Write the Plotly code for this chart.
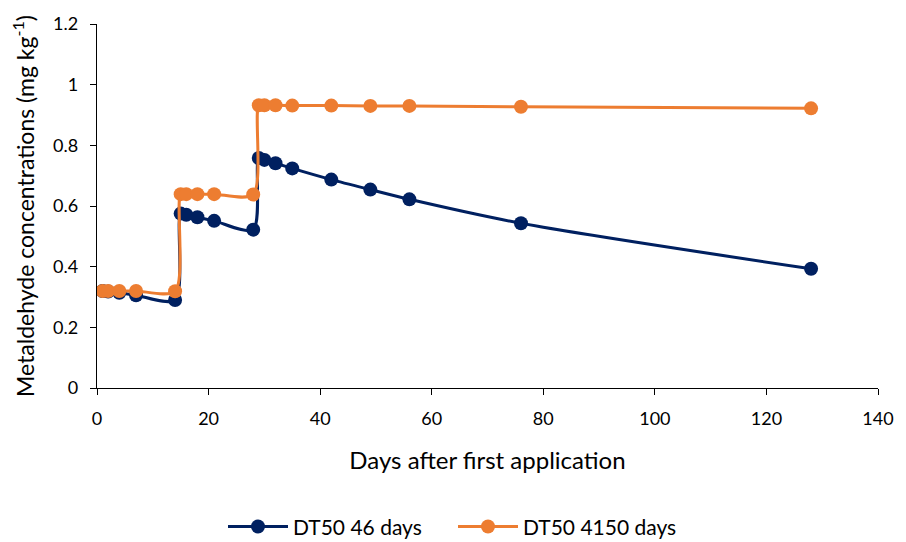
import plotly.graph_objects as go

# Sampling days after the first application
days = [1, 2, 4, 7, 14, 15, 16, 18, 21, 28, 29, 30, 32, 35, 42, 49, 56, 76, 128]

# Simulated metaldehyde concentrations (mg kg-1)
dt50_46 = [0.320, 0.318, 0.314, 0.306, 0.290, 0.575, 0.571, 0.563, 0.551, 0.522,
           0.758, 0.752, 0.741, 0.724, 0.687, 0.654, 0.622, 0.543, 0.393]
dt50_4150 = [0.320, 0.320, 0.320, 0.320, 0.319, 0.639, 0.639, 0.639, 0.639, 0.638,
             0.932, 0.932, 0.932, 0.931, 0.931, 0.930, 0.930, 0.927, 0.922]

series_names = ["DT50 46 days", "DT50 4150 days"]
colors = ["#002060", "#ED7D31"]

FONT = "Lato, Carlito, Calibri, sans-serif"

fig = go.Figure()
for name, vals, col in zip(series_names, [dt50_46, dt50_4150], colors):
    fig.add_trace(go.Scatter(
        x=days, y=vals, name=name, mode="lines+markers",
        line=dict(color=col, width=3, shape="spline", smoothing=0.8),
        marker=dict(color=col, size=14),
    ))

fig.update_layout(
    width=906, height=542,
    margin=dict(l=97, r=25, t=20, b=154),
    paper_bgcolor="white", plot_bgcolor="white",
    font=dict(family=FONT, size=18, color="#000000"),
    showlegend=True,
    legend=dict(orientation="h", xref="container", yref="container",
                x=0.5, xanchor="center", y=0.028, yanchor="middle",
                font=dict(size=21), itemwidth=60, tracegroupgap=0,
                entrywidth=155, entrywidthmode="pixels"),
)
fig.update_xaxes(
    range=[0, 140], dtick=20, tick0=0,
    showline=True, linecolor="#000000", linewidth=1.3,
    ticks="outside", ticklen=6, tickcolor="#000000", tickwidth=1.3,
    ticklabelstandoff=8,
    showgrid=False, zeroline=False,
    title=dict(text="Days after first application", font=dict(size=24), standoff=24),
)
fig.update_yaxes(
    range=[0, 1.2], dtick=0.2, tick0=0,
    showline=True, linecolor="#000000", linewidth=1.3,
    ticks="outside", ticklen=6, tickcolor="#000000", tickwidth=1.3,
    ticklabelstandoff=8,
    showgrid=False, zeroline=False,
    tickformat="~g",
    title=dict(text="Metaldehyde concentrations (mg kg<sup>-1</sup>)", font=dict(size=23), standoff=12),
)

fig.write_html("out.html")
